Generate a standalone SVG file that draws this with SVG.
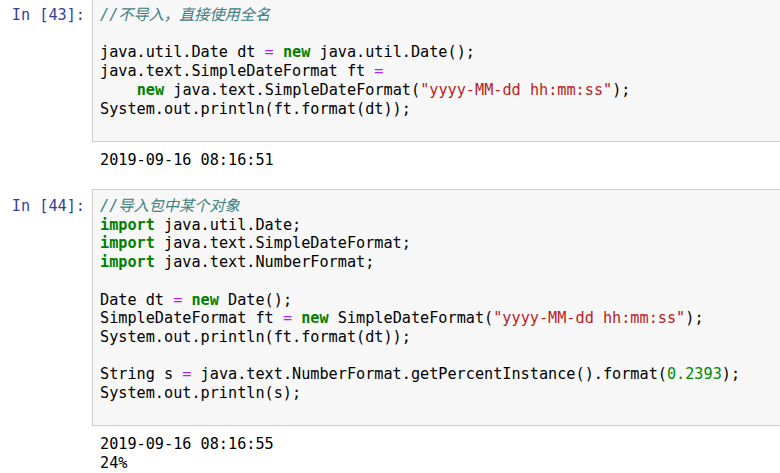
<svg xmlns="http://www.w3.org/2000/svg" width="780" height="473" viewBox="0 0 780 473">
<style>
text{font-family:"DejaVu Sans Mono","Liberation Mono","Noto Sans CJK SC",monospace;font-size:15.2px;fill:#000;white-space:pre}
.p{fill:#303F9F}
.c{fill:#408080;font-style:italic}
.k{fill:#008000;font-weight:bold}
.o{fill:#AA22FF}
.s{fill:#BA2121}
.n{fill:#008800}
.box{fill:#f7f7f7;stroke:#cfcfcf;stroke-width:1}
</style>
<rect width="780" height="473" fill="#fff"/>
<g id="cell43">
<rect class="box" x="92.5" y="-5" width="700" height="146.5"/>
<text class="p" x="85" y="20" text-anchor="end">In [43]:</text>
<text class="c" x="100" y="20">//不导入，直接使用全名</text>
<text x="100" y="57.4">java.util.Date dt <tspan class="o">=</tspan> <tspan class="k">new</tspan> java.util.Date();</text>
<text x="100" y="76.1">java.text.SimpleDateFormat ft <tspan class="o">=</tspan></text>
<text x="136.7" y="94.8"><tspan class="k">new</tspan> java.text.SimpleDateFormat(<tspan class="s">"yyyy-MM-dd hh:mm:ss"</tspan>);</text>
<text x="100" y="113.5">System.out.println(ft.format(dt));</text>
</g>
<g id="out43">
<text x="100" y="165">2019-09-16 08:16:51</text>
</g>
<g id="cell44">
<rect class="box" x="92.5" y="189.5" width="700" height="236"/>
<text class="p" x="85" y="211" text-anchor="end">In [44]:</text>
<text class="c" x="100" y="211">//导入包中某个对象</text>
<text x="100" y="229.7"><tspan class="k">import</tspan> java.util.Date;</text>
<text x="100" y="248.4"><tspan class="k">import</tspan> java.text.SimpleDateFormat;</text>
<text x="100" y="267.1"><tspan class="k">import</tspan> java.text.NumberFormat;</text>
<text x="100" y="304.5">Date dt <tspan class="o">=</tspan> <tspan class="k">new</tspan> Date();</text>
<text x="100" y="323.2">SimpleDateFormat ft <tspan class="o">=</tspan> <tspan class="k">new</tspan> SimpleDateFormat(<tspan class="s">"yyyy-MM-dd hh:mm:ss"</tspan>);</text>
<text x="100" y="341.9">System.out.println(ft.format(dt));</text>
<text x="100" y="379.3">String s <tspan class="o">=</tspan> java.text.NumberFormat.getPercentInstance().format(<tspan class="n">0.2393</tspan>);</text>
<text x="100" y="398">System.out.println(s);</text>
</g>
<g id="out44">
<text x="100" y="449">2019-09-16 08:16:55</text>
<text x="100" y="468">24%</text>
</g>
<g id="connectors"/>
</svg>
